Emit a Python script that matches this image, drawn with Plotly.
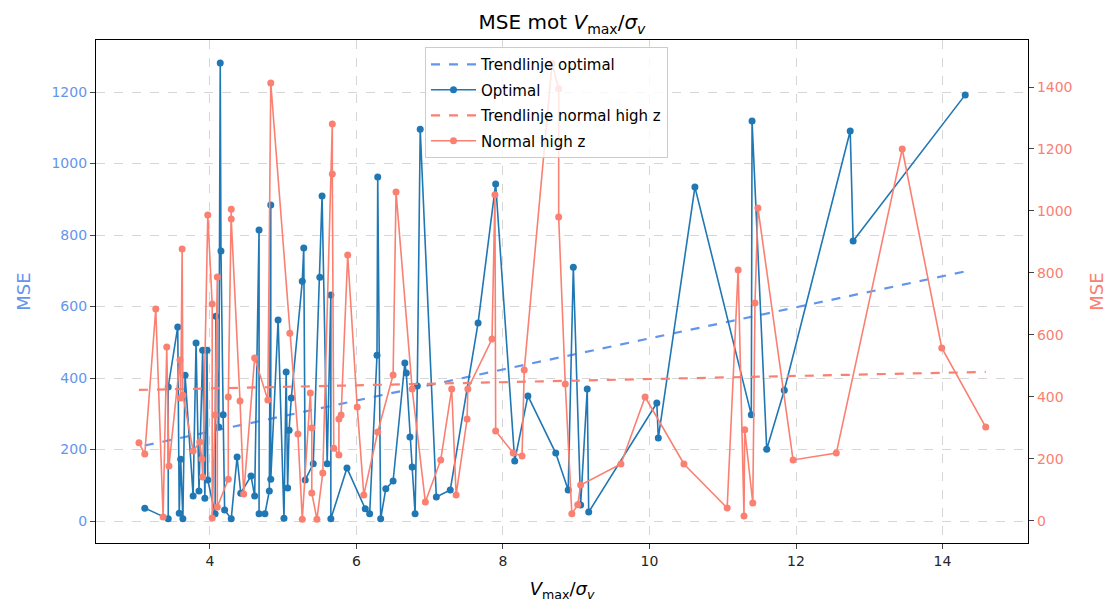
import numpy as np
import plotly.graph_objects as go

# Optimal: V_max/sigma_v and MSE
opt_x = [3.11, 3.43, 3.43, 3.56, 3.58, 3.60, 3.63, 3.66, 3.77, 3.81, 3.85, 3.90, 3.93, 3.96, 3.97,
         4.07, 4.08, 4.12, 4.14, 4.15, 4.18, 4.20, 4.29, 4.37, 4.42, 4.56, 4.61, 4.67, 4.67, 4.75,
         4.81, 4.83, 4.83, 4.93, 5.01, 5.04, 5.06, 5.08, 5.11, 5.26, 5.28, 5.30, 5.41, 5.50, 5.53,
         5.60, 5.65, 5.65, 5.87, 6.12, 6.18, 6.28, 6.29, 6.33, 6.40, 6.50, 6.66, 6.68, 6.73, 6.76,
         6.80, 6.83, 6.87, 7.09, 7.28, 7.66, 7.90, 8.16, 8.34, 8.72, 8.89, 8.96, 9.06, 9.15, 9.17,
         10.10, 10.12, 10.62, 11.39, 11.40, 11.60, 11.84, 12.74, 12.78, 14.31]
opt_mse = [36, 6, 375, 543, 22, 173, 6, 408, 70, 498, 84, 478, 64, 478, 115,
           20, 573, 263, 1281, 755, 297, 31, 6, 179, 78, 126, 70, 814, 20, 20,
           84, 884, 117, 562, 8, 417, 92, 254, 344, 671, 764, 115, 160, 682, 909,
           160, 632, 6, 148, 34, 20, 464, 962, 6, 90, 112, 442, 414, 235, 151,
           20, 378, 1096, 67, 87, 554, 943, 168, 350, 190, 87, 710, 45, 369, 25,
           330, 232, 934, 297, 1119, 201, 366, 1091, 783, 1192]

# Normal high z: V_max/sigma_v and MSE
nhz_x = [3.03, 3.11, 3.26, 3.36, 3.41, 3.44, 3.59, 3.60, 3.62, 3.63, 3.77, 3.86, 3.89, 3.90, 3.97,
         4.03, 4.03, 4.07, 4.10, 4.10, 4.25, 4.25, 4.29, 4.29, 4.41, 4.46, 4.61, 4.79, 4.83, 5.09,
         5.20, 5.26, 5.37, 5.39, 5.39, 5.46, 5.54, 5.67, 5.67, 5.69, 5.76, 5.76, 5.79, 5.88, 6.01,
         6.10, 6.29, 6.50, 6.54, 6.76, 6.94, 7.15, 7.30, 7.36, 7.51, 7.52, 7.85, 7.89, 7.90, 8.14,
         8.26, 8.29, 8.67, 8.76, 8.76, 8.85, 8.94, 9.02, 9.06, 9.61, 9.94, 10.47, 11.06, 11.21, 11.29,
         11.30, 11.41, 11.44, 11.48, 11.96, 12.55, 13.45, 13.99, 14.59]
nhz_mse = [252, 216, 684, 13, 561, 177, 519, 397, 877, 406, 226, 255, 200, 142, 987,
           700, 10, 342, 787, 45, 135, 400, 1006, 974, 387, 87, 526, 390, 1413, 606,
           281, 6, 413, 300, 90, 6, 155, 1281, 1119, 235, 213, 329, 342, 858, 368,
           84, 287, 471, 1061, 426, 61, 197, 426, 84, 329, 426, 587, 1052, 290, 219,
           210, 487, 1477, 1394, 981, 442, 23, 52, 116, 184, 400, 184, 42, 810, 16,
           294, 58, 703, 1010, 197, 219, 1200, 558, 303]

left_ticks = [0, 200, 400, 600, 800, 1000, 1200]
right_ticks = [0, 200, 400, 600, 800, 1000, 1200, 1400]
x_ticks = [4, 6, 8, 10, 12, 14]

BLUE = "#1f77b4"
TREND_BLUE = "#6495ED"
SALMON = "#FA8072"
FONT = "DejaVu Sans"


def trend(xs, ys):
    xs = np.asarray(xs, float)
    ys = np.asarray(ys, float)
    k, m = np.polyfit(xs, ys, 1)
    xe = np.array([xs.min(), xs.max()])
    return xe, k * xe + m


tx_o, ty_o = trend(opt_x, opt_mse)
tx_n, ty_n = trend(nhz_x, nhz_mse)

fig = go.Figure()
fig.add_trace(go.Scatter(x=tx_o, y=ty_o, mode="lines", name="Trendlinje optimal",
                         legendgroup="g1",
                         line=dict(color=TREND_BLUE, width=2.2, dash="dash"), yaxis="y"))
fig.add_trace(go.Scatter(x=opt_x, y=opt_mse, mode="lines+markers", name="Optimal",
                         legendgroup="g2",
                         line=dict(color=BLUE, width=1.6), marker=dict(color=BLUE, size=7),
                         yaxis="y"))
fig.add_trace(go.Scatter(x=tx_n, y=ty_n, mode="lines", name="Trendlinje normal high z",
                         legendgroup="g3",
                         line=dict(color=SALMON, width=2.2, dash="dash"), yaxis="y2"))
fig.add_trace(go.Scatter(x=nhz_x, y=nhz_mse, mode="lines+markers", name="Normal high z",
                         legendgroup="g4",
                         line=dict(color=SALMON, width=1.6), marker=dict(color=SALMON, size=7),
                         yaxis="y2"))

grid = dict(showgrid=True, gridcolor="rgba(0,0,0,0.16)", griddash="dash", gridwidth=1)

fig.update_layout(
    width=1113, height=603,
    margin=dict(l=96, r=85, t=40, b=60, autoexpand=False),
    paper_bgcolor="white", plot_bgcolor="white",
    font=dict(family=FONT, size=14, color="#262626"),
    title=dict(text="MSE mot <i>V</i><sub>max</sub>/<i>σ</i><sub><i>v</i></sub>",
               x=0.5, xref="paper", xanchor="center", y=0.963, yanchor="middle",
               font=dict(size=20, color="black")),
    xaxis=dict(range=[2.444, 15.167], tickvals=x_ticks, ticks="outside", ticklen=5,
               showline=True, linecolor="black", linewidth=1.2, mirror=True,
               zeroline=False, automargin=False,
               title=dict(text="<i>V</i><sub>max</sub>/<i>σ</i><sub><i>v</i></sub>",
                          font=dict(size=18, color="black"), standoff=14),
               **grid),
    yaxis=dict(range=[-61.5, 1345.5], tickvals=left_ticks, ticks="outside", ticklen=5,
               showline=True, linecolor="black", linewidth=1.2, zeroline=False,
               automargin=False,
               tickfont=dict(color=TREND_BLUE, size=14),
               title=dict(text="MSE", font=dict(size=18, color=TREND_BLUE), standoff=16),
               **grid),
    yaxis2=dict(range=[-71, 1551.6], tickvals=right_ticks, ticks="outside", ticklen=5,
                overlaying="y", side="right", showgrid=False, zeroline=False,
                showline=True, linecolor="black", linewidth=1.2, automargin=False,
                tickfont=dict(color=SALMON, size=14),
                title=dict(text="MSE", font=dict(size=18, color=SALMON), standoff=18)),
    legend=dict(x=0.353, y=0.986, xanchor="left", yanchor="top",
                bgcolor="rgba(255,255,255,0.8)", bordercolor="#cccccc", borderwidth=1,
                font=dict(size=15, color="black"), tracegroupgap=3, itemwidth=45),
    showlegend=True,
)

fig.write_html("out.html")
